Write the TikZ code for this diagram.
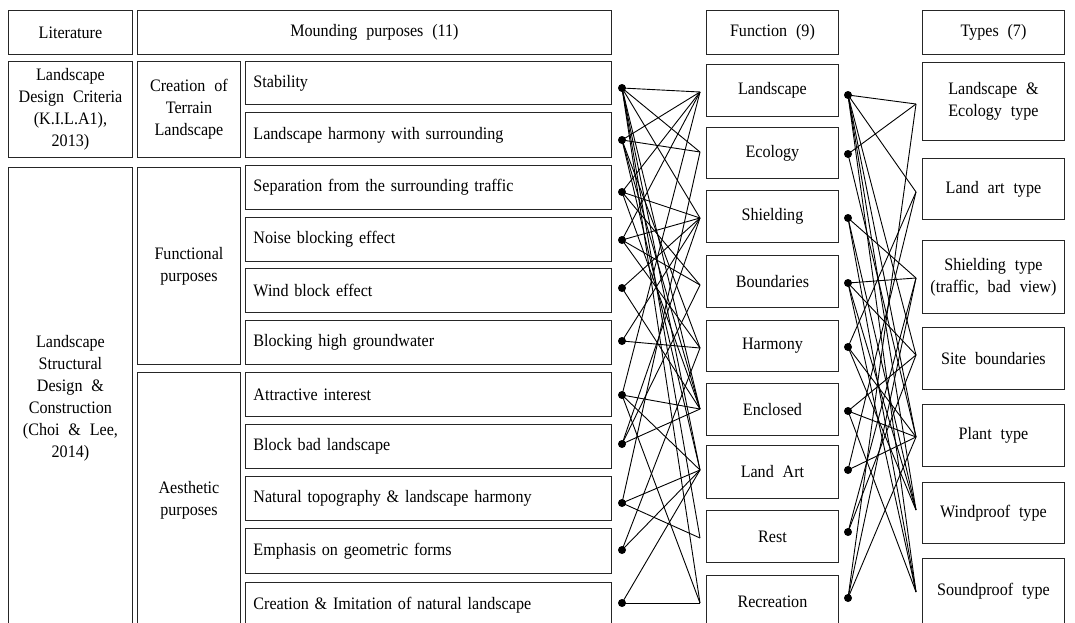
\documentclass[tikz,border=0pt]{standalone}
\usepackage{fontspec}
\setmainfont{Liberation Serif}[WordSpace=2.2, FakeStretch=0.92]
\usepackage{tikz}

\begin{document}
\begin{tikzpicture}[x=1pt,y=-1pt,
	box/.style={draw=black!85, line width=0.9pt, anchor=north west, inner sep=0pt,
		align=center, font=\fontsize{17.5}{22}\selectfont},
	lbox/.style={box, align=left, inner xsep=8pt, text width=350pt},
	dot/.style={circle, fill=black, inner sep=0pt, minimum size=8pt},
	link/.style={line width=0.9pt}]
			\useasboundingbox (0,0) rectangle (1075,622);
			% header row
			\foreach \n/\l/\t/\w in
			{lit/8/Literature/124, mound/137/Mounding purposes (11)/474, func/706/Function (9)/132, type/922/Types (7)/142}{
				\node[box, minimum width=\w, minimum height=44] (\n) at (\l,10) {\t};
			}
			
			% literature and groups
			\node[box, minimum width=124, minimum height=96] (kila) at (8,61) {Landscape\\Design Criteria\\(K.I.L.A1),\\2013)};
			\node[box, minimum width=124, minimum height=461] (choi) at (8,167) {Landscape\\Structural\\Design \&\\Construction\\(Choi \& Lee,\\2014)};
			\node[box, minimum width=103, minimum height=96] (terrain) at (137,61) {Creation of\\Terrain\\Landscape};
			\node[box, minimum width=103, minimum height=197] (functional) at (137,167) {Functional\\purposes};
			\node[box, minimum width=103, minimum height=256] (aesthetic) at (137,372) {Aesthetic\\purposes};
			
			% mounding purposes
			\foreach \n/\t/\h/\s in
			{1/61/43/Stability, 2/112/45/Landscape harmony with surrounding,
				3/165/44/Separation from the surrounding traffic, 4/217/44/Noise blocking effect,
				5/268/44/Wind block effect, 6/320/44/Blocking high groundwater,
				7/372/44/Attractive interest, 8/424/44/Block bad landscape,
				9/476/44/Natural topography \& landscape harmony, 10/528/45/Emphasis on geometric forms,
				11/582/46/Creation \& Imitation of natural landscape}{
				\node[lbox, minimum height=\h] (p\n) at (245,\t) {\s};
			}
			
			% functions
			\foreach \n/\t/\h/\s in
			{1/64/52/Landscape, 2/127/51/Ecology, 3/190/52/Shielding, 4/255/52/Boundaries,
				5/320/51/Harmony, 6/383/52/Enclosed, 7/445/53/Land Art, 8/510/52/Rest, 9/575/53/Recreation}{
				\node[box, minimum width=132, minimum height=\h] (f\n) at (706,\t) {\s};
			}
			
			% types
			\foreach \n/\t/\h/\s in
			{1/62/78/{Landscape \&\\Ecology type}, 2/158/61/Land art type,
				3/240/73/{Shielding type\\(traffic, bad view)}, 4/327/62/Site boundaries,
				5/404/62/Plant type, 6/482/61/Windproof type, 7/558/66/Soundproof type}{
				\node[box, minimum width=142, minimum height=\h] (t\n) at (922,\t) {\s};
			}
			
			% dots and ends
			\foreach \n/\y in
			{1/88, 2/140, 3/192, 4/240, 5/288, 6/341, 7/395, 8/444, 9/503, 10/550, 11/603}{
				\node[dot] (pd\n) at (622,\y) {};
			}
			\foreach \n/\y in
			{1/92, 2/152, 3/218, 4/285, 5/348, 6/409, 7/470, 8/538, 9/603}{
				\coordinate (fe\n) at (700,\y);
			}
			\foreach \n/\y in
			{1/95, 2/154, 3/218, 4/283, 5/347, 6/411, 7/470, 8/532, 9/598}{
				\node[dot] (fd\n) at (848,\y) {};
			}
			\foreach \n/\y in
			{1/104, 2/192, 3/278, 4/355, 5/437, 6/510, 7/592}{
				\coordinate (te\n) at (916,\y);
			}
			
			% purposes to functions
			\foreach \x/\y in
			{1/1,1/2,1/3,1/6,1/7,1/8,1/9, 2/1,2/2,2/5,2/6,2/7, 3/1,3/3,3/4,3/6,
				4/1,4/3,4/4,4/5, 5/3,5/6, 6/5,6/3, 7/1,7/6,7/7,7/9, 8/3,8/4,8/6,
				9/2,9/7,9/8, 10/5,10/7, 11/7,11/9}{
				\draw[link] (pd\x.center)--(fe\y);
			}
			
			% functions to types
			\foreach \x/\y in
			{1/1,1/2,1/4,1/5,1/6,1/7, 2/1,2/5, 3/3,3/6,3/7, 4/3,4/4,4/6,4/7,
				5/2,5/5,5/6, 6/4,6/5,6/7, 7/2,7/5, 8/3,8/4, 9/1,9/3,9/5}{
				\draw[link] (fd\x.center)--(te\y);
			}
		\end{tikzpicture}
\end{document}
